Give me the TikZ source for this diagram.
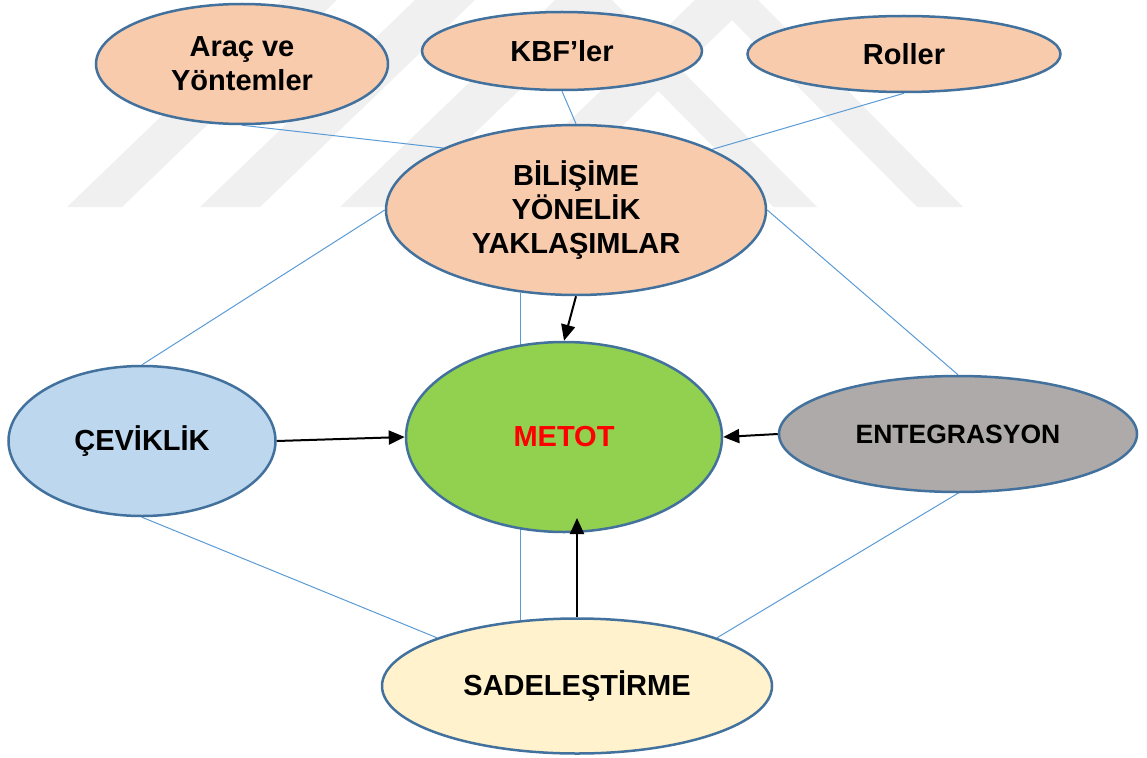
\documentclass[tikz,border=0pt]{standalone}
\usepackage{fontspec}
\setmainfont{Liberation Sans}
\usetikzlibrary{shapes.geometric,arrows.meta}

\pgfdeclarelayer{marks}
\pgfdeclarelayer{links}
\pgfsetlayers{marks,links,main}

\definecolor{peach}{HTML}{F8CBAD}
\definecolor{leaf}{HTML}{92D050}
\definecolor{sky}{HTML}{BDD7EE}
\definecolor{stone}{HTML}{AEAAAA}
\definecolor{cream}{HTML}{FFF2CC}
\definecolor{rim}{HTML}{41719C}
\definecolor{linkblue}{HTML}{5B9BD5}
\definecolor{wmgrey}{HTML}{F0F0F0}

\begin{document}
\begin{tikzpicture}[x=1pt,y=-1pt,
  bubble/.style={ellipse, draw=rim, line width=2.5pt, inner sep=0pt,
    align=center, font=\fontsize{29}{34}\selectfont\bfseries},
  link/.style={draw=linkblue, line width=1pt},
  flow/.style={draw=black, line width=2pt, -{Triangle[length=16pt,width=14pt]}},
  band/.style={fill=wmgrey, draw=none}]

\useasboundingbox (0,0) rectangle (1147,757);

% nodes
\node[bubble, fill=peach, minimum width=292pt, minimum height=120pt] (arac) at (242,64) {Araç ve\\Yöntemler};
\node[bubble, fill=peach, minimum width=280pt, minimum height=78pt] (kbf) at (562,51) {KBF’ler};
\node[bubble, fill=peach, minimum width=313pt, minimum height=76pt] (rol) at (904,54) {Roller};
\node[bubble, fill=peach, minimum width=380pt, minimum height=170pt] (bil) at (576,210) {BİLİŞİME\\YÖNELİK\\YAKLAŞIMLAR};
\node[bubble, fill=leaf, minimum width=316pt, minimum height=190pt, text=red] (met) at (564,437) {METOT};
\node[bubble, fill=sky, minimum width=267pt, minimum height=150pt] (cev) at (142,441) {ÇEVİKLİK};
\node[bubble, fill=stone, minimum width=358pt, minimum height=116pt, font=\fontsize{26.5}{32}\selectfont\bfseries] (ent) at (958,434) {ENTEGRASYON};
\node[bubble, fill=cream, minimum width=390pt, minimum height=135pt] (sad) at (577,686) {SADELEŞTİRME};

\coordinate (mtip) at (577,518);

% background logo stripes
\begin{pgfonlayer}{marks}
  \fill[band] (67,207) -- (122,207) -- (337,0) -- (282,0) -- cycle;
  \fill[band] (200,207) -- (260,207) -- (475,0) -- (415,0) -- cycle;
  \fill[band] (340,207) -- (398,207) -- (613,0) -- (555,0) -- cycle;
  \fill[band] (480,207) -- (538,207) -- (753,0) -- (695,0) -- cycle;
  \fill[band] (773,207) -- (817,207) -- (612,0) -- (568,0) -- cycle;
  \fill[band] (917,207) -- (963,207) -- (758,0) -- (712,0) -- cycle;
\end{pgfonlayer}

% thin links between the ellipses
\begin{pgfonlayer}{links}
  \draw[link] (arac.south) -- (bil.155);
  \draw[link] (kbf.south) -- (bil.north);
  \draw[link] (rol.south) -- (bil.24);
  \draw[link] (bil.west) -- (cev.north);
  \draw[link] (bil.east) -- (ent.north);
  \draw[link] (cev.south) -- (sad.161);
  \draw[link] (ent.south) -- (sad.19);
  \draw[link] (bil.236.8) -- (bil.236.8 |- sad.130.6);
\end{pgfonlayer}

% arrows into the method
\draw[flow] (bil.south) -- (met.north);
\draw[flow] (cev.east) -- (met.west);
\draw[flow] (ent.west) -- (met.east);
\draw[flow] (sad.north) -- (mtip);

\end{tikzpicture}
\end{document}
